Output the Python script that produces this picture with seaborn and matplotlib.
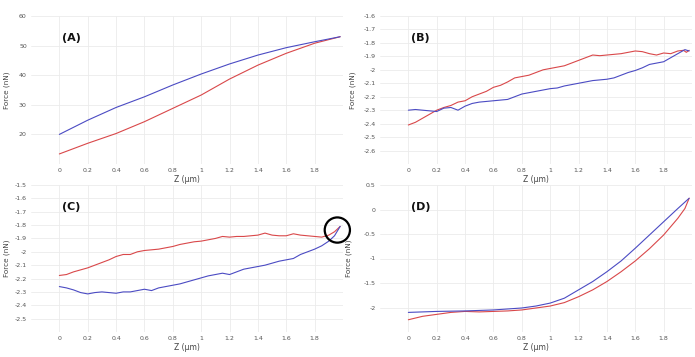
import numpy as np
import pandas as pd
import matplotlib
matplotlib.use("Agg")
import matplotlib.pyplot as plt
import seaborn as sns

# ---------------- data ----------------
# Panel A
a_blue_z = [0, 0.2, 0.4, 0.6, 0.8, 1.0, 1.2, 1.4, 1.6, 1.8, 1.98]
a_blue_f = [20.0, 24.8, 29.1, 32.7, 36.7, 40.4, 43.8, 46.8, 49.3, 51.3, 53.0]
a_red_z = [0, 0.2, 0.4, 0.6, 0.8, 1.0, 1.2, 1.4, 1.6, 1.8, 1.98]
a_red_f = [13.4, 17.0, 20.3, 24.3, 28.8, 33.3, 38.7, 43.4, 47.4, 50.8, 53.0]

# Panel B
b_red_z = [0, 0.05, 0.1, 0.15, 0.2, 0.25, 0.3, 0.35, 0.4, 0.45, 0.5, 0.55, 0.6, 0.65, 0.7,
           0.75, 0.8, 0.85, 0.9, 0.95, 1.0, 1.05, 1.1, 1.15, 1.2, 1.25, 1.3, 1.35, 1.4, 1.45,
           1.5, 1.55, 1.6, 1.65, 1.7, 1.75, 1.8, 1.85, 1.9, 1.94, 1.96, 1.98]
b_red_f = [-2.41, -2.39, -2.36, -2.33, -2.30, -2.28, -2.265, -2.24, -2.23, -2.20, -2.18, -2.16,
           -2.13, -2.115, -2.09, -2.06, -2.05, -2.04, -2.02, -2.0, -1.99, -1.98, -1.97, -1.95,
           -1.93, -1.91, -1.89, -1.895, -1.89, -1.885, -1.88, -1.87, -1.86, -1.865, -1.88,
           -1.89, -1.875, -1.88, -1.86, -1.855, -1.87, -1.855]
b_blue_z = [0, 0.05, 0.1, 0.15, 0.2, 0.25, 0.3, 0.35, 0.4, 0.45, 0.5, 0.55, 0.6, 0.65, 0.7,
            0.75, 0.8, 0.85, 0.9, 0.95, 1.0, 1.05, 1.1, 1.15, 1.2, 1.25, 1.3, 1.35, 1.4, 1.45,
            1.5, 1.55, 1.6, 1.65, 1.7, 1.75, 1.8, 1.85, 1.9, 1.95, 1.98]
b_blue_f = [-2.30, -2.295, -2.30, -2.305, -2.31, -2.285, -2.28, -2.30, -2.27, -2.25, -2.24,
            -2.235, -2.23, -2.225, -2.22, -2.20, -2.18, -2.17, -2.16, -2.15, -2.14, -2.135,
            -2.12, -2.11, -2.10, -2.09, -2.08, -2.075, -2.07, -2.06, -2.04, -2.02, -2.005,
            -1.985, -1.96, -1.95, -1.94, -1.91, -1.88, -1.85, -1.86]

# Panel C
c_red_z = [0, 0.05, 0.1, 0.15, 0.2, 0.25, 0.3, 0.35, 0.4, 0.45, 0.5, 0.55, 0.6, 0.65, 0.7,
           0.75, 0.8, 0.85, 0.9, 0.95, 1.0, 1.05, 1.1, 1.15, 1.2, 1.25, 1.3, 1.35, 1.4, 1.45,
           1.5, 1.55, 1.6, 1.65, 1.7, 1.75, 1.8, 1.85, 1.9, 1.94, 1.98]
c_red_f = [-2.177, -2.17, -2.15, -2.135, -2.12, -2.10, -2.08, -2.06, -2.035, -2.02, -2.02,
           -2.0, -1.99, -1.985, -1.98, -1.97, -1.96, -1.945, -1.935, -1.925, -1.92, -1.91,
           -1.90, -1.885, -1.89, -1.885, -1.885, -1.88, -1.875, -1.86, -1.875, -1.88, -1.88,
           -1.865, -1.875, -1.88, -1.885, -1.89, -1.875, -1.85, -1.81]
c_blue_z = [0, 0.05, 0.1, 0.15, 0.2, 0.25, 0.3, 0.35, 0.4, 0.45, 0.5, 0.55, 0.6, 0.65, 0.7,
            0.75, 0.8, 0.85, 0.9, 0.95, 1.0, 1.05, 1.1, 1.15, 1.2, 1.25, 1.3, 1.35, 1.4, 1.45,
            1.5, 1.55, 1.6, 1.65, 1.7, 1.75, 1.8, 1.85, 1.9, 1.94, 1.98]
c_blue_f = [-2.26, -2.27, -2.285, -2.305, -2.315, -2.305, -2.30, -2.305, -2.31, -2.30, -2.30,
            -2.29, -2.28, -2.29, -2.27, -2.26, -2.25, -2.24, -2.225, -2.21, -2.195, -2.18,
            -2.17, -2.16, -2.17, -2.15, -2.13, -2.12, -2.11, -2.10, -2.085, -2.07, -2.06,
            -2.05, -2.02, -2.0, -1.98, -1.955, -1.92, -1.88, -1.81]

# Panel D
d_blue_z = [0, 0.2, 0.4, 0.6, 0.8, 0.9, 1.0, 1.1, 1.2, 1.3, 1.4, 1.5, 1.6, 1.7, 1.8, 1.9, 1.98]
d_blue_f = [-2.10, -2.08, -2.07, -2.05, -2.01, -1.97, -1.91, -1.81, -1.64, -1.47, -1.27,
            -1.05, -0.79, -0.52, -0.25, 0.02, 0.23]
d_red_z = [0, 0.1, 0.2, 0.3, 0.4, 0.5, 0.6, 0.7, 0.8, 0.9, 1.0, 1.1, 1.2, 1.3, 1.4, 1.5,
           1.6, 1.7, 1.8, 1.9, 1.95, 1.98]
d_red_f = [-2.25, -2.18, -2.14, -2.10, -2.08, -2.09, -2.08, -2.07, -2.05, -2.01, -1.97,
           -1.90, -1.78, -1.64, -1.47, -1.27, -1.05, -0.80, -0.52, -0.18, 0.02, 0.23]

panel_labels = ["(A)", "(B)", "(C)", "(D)"]
x_ticks = [0, 0.2, 0.4, 0.6, 0.8, 1.0, 1.2, 1.4, 1.6, 1.8]
y_ticks = [[20, 30, 40, 50, 60],
           [-2.6, -2.5, -2.4, -2.3, -2.2, -2.1, -2.0, -1.9, -1.8, -1.7, -1.6],
           [-2.5, -2.4, -2.3, -2.2, -2.1, -2.0, -1.9, -1.8, -1.7, -1.6, -1.5],
           [-2.0, -1.5, -1.0, -0.5, 0.0, 0.5]]
y_lims = [(10, 60), (-2.7, -1.6), (-2.6, -1.5), (-2.5, 0.5)]

# ---------------- styling ----------------
sns.set_theme(style="white")
plt.rcParams['font.family'] = ['DejaVu Sans']
plt.rcParams['axes.unicode_minus'] = False

BLUE = "#4b4bc3"
RED = "#d9484a"

fig = plt.figure(figsize=(6.95, 3.57), dpi=100)
positions = [
    [31 / 695, (357 - 164) / 357, 312 / 695, 148 / 357],
    [380 / 695, (357 - 164) / 357, 312 / 695, 148 / 357],
    [31 / 695, (357 - 332) / 357, 312 / 695, 147 / 357],
    [380 / 695, (357 - 332) / 357, 312 / 695, 147 / 357],
]
ylabel_x = [-0.066, -0.077, -0.066, -0.09]

series = [
    ((a_blue_z, a_blue_f), (a_red_z, a_red_f)),
    ((b_blue_z, b_blue_f), (b_red_z, b_red_f)),
    ((c_blue_z, c_blue_f), (c_red_z, c_red_f)),
    ((d_blue_z, d_blue_f), (d_red_z, d_red_f)),
]


def fmt(v):
    s = f"{v:.1f}"
    if s.endswith(".0"):
        s = s[:-2]
    return s


for i, pos in enumerate(positions):
    ax = fig.add_axes(pos)
    (bz, bf), (rz, rf) = series[i]
    df = pd.concat([
        pd.DataFrame({"Z": rz, "F": rf, "s": "red"}),
        pd.DataFrame({"Z": bz, "F": bf, "s": "blue"}),
    ])
    sns.lineplot(data=df, x="Z", y="F", hue="s", palette={"blue": BLUE, "red": RED},
                 sort=False, estimator=None, linewidth=0.8, legend=False, ax=ax)
    ax.set_xlim(-0.2, 2.0)
    ax.set_ylim(*y_lims[i])
    ax.set_xticks(x_ticks)
    ax.set_xticklabels([fmt(v) for v in x_ticks])
    ax.set_yticks(y_ticks[i])
    ax.set_yticklabels([fmt(v) for v in y_ticks[i]])
    ax.tick_params(labelsize=4.5, colors="#555555", length=0, pad=3)
    ax.grid(True, color="#ebebeb", linewidth=0.6)
    for sp in ax.spines.values():
        sp.set_visible(False)
    ax.set_xlabel("Z (µm)", fontsize=5.5, color="#444444", labelpad=1)
    ax.set_ylabel("Force (nN)", fontsize=5.2, color="#444444")
    ax.yaxis.set_label_coords(ylabel_x[i], 0.5)
    ax.text(0.10, 0.85, panel_labels[i], transform=ax.transAxes, fontsize=8,
            fontweight="bold", color="#111111", ha="left", va="center")
    if i == 2:
        ax.scatter([1.96], [-1.837], s=330, facecolors="none", edgecolors="black",
                   linewidths=1.6, clip_on=False, zorder=5)

fig.savefig("out.png", dpi=100)
